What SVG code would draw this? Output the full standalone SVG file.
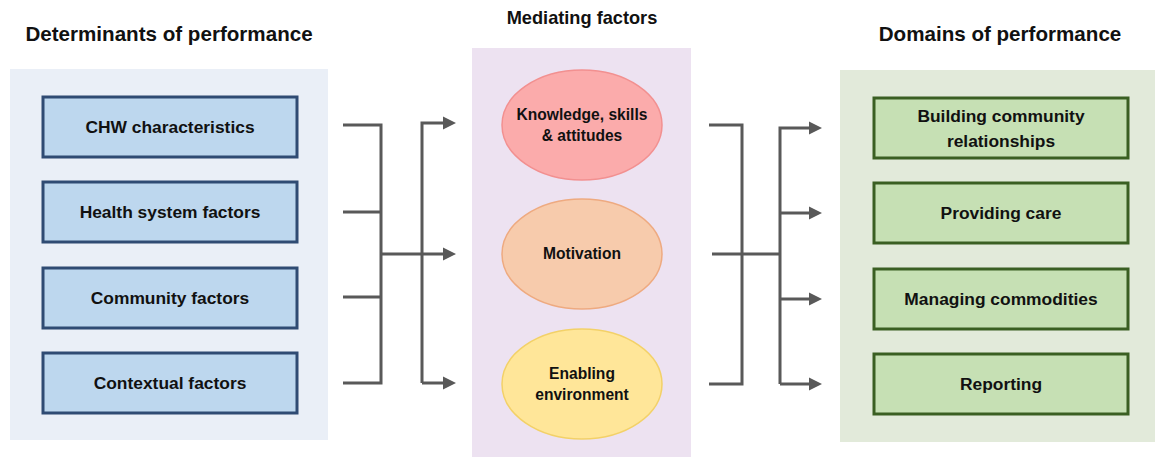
<svg xmlns="http://www.w3.org/2000/svg" width="1155" height="457" viewBox="0 0 1155 457">
  <style>
    text { font-family: "Liberation Sans", Arial, sans-serif; font-weight: bold; fill: #111; text-anchor: middle; }
    .title { font-size: 20.6px; }
    .lbl { font-size: 17.4px; }
    .oval { font-size: 15.6px; }
    .det { fill: #BDD7EE; stroke: #2F4B73; stroke-width: 3; }
    .dom { fill: #C6E0B4; stroke: #3A5F22; stroke-width: 3; }
    .wire { fill: none; stroke: #595959; stroke-width: 3; stroke-linejoin: miter; }
  </style>
  <defs>
    <marker id="arrow" markerWidth="4.4" markerHeight="4.4" refX="0" refY="2.2" orient="auto" markerUnits="strokeWidth">
      <path d="M0,0 L4.4,2.2 L0,4.4 Z" fill="#595959"/>
    </marker>
  </defs>

  <rect width="1155" height="457" fill="#ffffff"/>

  <!-- column panels -->
  <rect x="10" y="69" width="318" height="371" fill="#EAEFF7"/>
  <rect x="472" y="48" width="219" height="409" fill="#EDE2F1"/>
  <rect x="840" y="70" width="315" height="372" fill="#E2EADA"/>

  <!-- column headings -->
  <text class="title" x="169" y="41">Determinants of performance</text>
  <text class="title" x="582" y="24" style="font-size:18.2px">Mediating factors</text>
  <text class="title" x="1000" y="41">Domains of performance</text>

  <!-- determinants -->
  <g id="chw">
    <rect class="det" x="43" y="97" width="254" height="60"/>
    <text class="lbl" x="170" y="133">CHW characteristics</text>
  </g>
  <g id="health-system">
    <rect class="det" x="43" y="182" width="254" height="60"/>
    <text class="lbl" x="170" y="218">Health system factors</text>
  </g>
  <g id="community">
    <rect class="det" x="43" y="268" width="254" height="60"/>
    <text class="lbl" x="170" y="304">Community factors</text>
  </g>
  <g id="contextual">
    <rect class="det" x="43" y="353" width="254" height="60"/>
    <text class="lbl" x="170" y="389">Contextual factors</text>
  </g>

  <!-- mediating factors -->
  <g id="knowledge">
    <ellipse cx="582" cy="125" rx="80" ry="55" fill="#FBABAB" stroke="#F29090" stroke-width="1.5"/>
    <text class="oval" x="582" y="120">Knowledge, skills</text>
    <text class="oval" x="582" y="141">&amp; attitudes</text>
  </g>
  <g id="motivation">
    <ellipse cx="582" cy="254" rx="80" ry="55" fill="#F7CBAC" stroke="#EEAA80" stroke-width="1.5"/>
    <text class="oval" x="582" y="259">Motivation</text>
  </g>
  <g id="enabling">
    <ellipse cx="582" cy="384" rx="80" ry="55" fill="#FFE699" stroke="#F3D168" stroke-width="1.5"/>
    <text class="oval" x="582" y="379">Enabling</text>
    <text class="oval" x="582" y="400">environment</text>
  </g>

  <!-- domains -->
  <g id="relationships">
    <rect class="dom" x="874" y="98" width="254" height="60"/>
    <text class="lbl" x="1001" y="122">Building community</text>
    <text class="lbl" x="1001" y="147">relationships</text>
  </g>
  <g id="care">
    <rect class="dom" x="874" y="183" width="254" height="60"/>
    <text class="lbl" x="1001" y="219">Providing care</text>
  </g>
  <g id="commodities">
    <rect class="dom" x="874" y="269" width="254" height="60"/>
    <text class="lbl" x="1001" y="305">Managing commodities</text>
  </g>
  <g id="reporting">
    <rect class="dom" x="874" y="354" width="254" height="60"/>
    <text class="lbl" x="1001" y="390">Reporting</text>
  </g>

  <!-- connectors -->
  <g id="connectors">
    <!-- determinants gathered into one bus -->
    <path class="wire" d="M343,125 H381 V383 H343 M343,212 H381 M343,297 H381"/>
    <!-- bus fans out to the mediating factors -->
    <path class="wire" d="M381,254 H443" marker-end="url(#arrow)"/>
    <path class="wire" d="M422,383 V123 H443" marker-end="url(#arrow)"/>
    <path class="wire" d="M422,383 H443" marker-end="url(#arrow)"/>
    <!-- mediating factors gathered -->
    <path class="wire" d="M709,125 H742 V384 H709 M712,254 H780"/>
    <!-- fan out to the domains -->
    <path class="wire" d="M780,384 V128 H809" marker-end="url(#arrow)"/>
    <path class="wire" d="M780,213 H809" marker-end="url(#arrow)"/>
    <path class="wire" d="M780,299 H809" marker-end="url(#arrow)"/>
    <path class="wire" d="M780,384 H809" marker-end="url(#arrow)"/>
  </g>
</svg>
